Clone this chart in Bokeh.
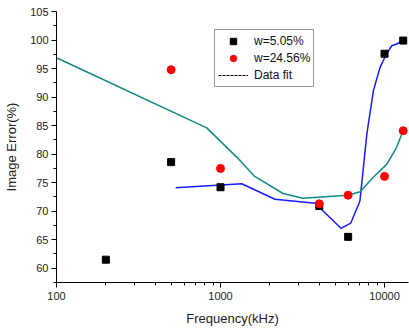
from bokeh.plotting import figure
from bokeh.models import FixedTicker, Legend, LegendItem, Range1d, BasicTickFormatter
from bokeh.embed import file_html
from bokeh.resources import INLINE

# Measured data
freq_a = [200, 500, 1000, 4000, 6000, 10000, 13000]
err_a = [61.5, 78.6, 74.2, 70.9, 65.5, 97.6, 99.9]

freq_b = [500, 1000, 4000, 6000, 10000, 13000]
err_b = [94.8, 77.5, 71.3, 72.8, 76.1, 84.1]

# Fit curves
fit_a_x = [533, 1346, 2148, 3770, 5430, 6220, 7080, 7800, 8550, 9390, 10300, 11070, 11860, 12970]
fit_a_y = [74.1, 74.8, 72.1, 71.4, 67.0, 67.9, 71.8, 83.5, 91.1, 95.2, 97.6, 99.0, 99.3, 99.9]

fit_b_x = [100, 824, 1315, 1600, 2404, 3184, 5990, 7100, 8510, 10300, 11860, 12970]
fit_b_y = [96.9, 84.6, 78.9, 76.2, 73.1, 72.25, 72.8, 73.4, 75.9, 78.2, 81.2, 84.1]

y_ticks = [60, 65, 70, 75, 80, 85, 90, 95, 100, 105]
y_minor = [57.5, 62.5, 67.5, 72.5, 77.5, 82.5, 87.5, 92.5, 97.5, 102.5]
x_ticks = [100, 1000, 10000]
x_minor = [200, 300, 400, 500, 600, 700, 800, 900,
           2000, 3000, 4000, 5000, 6000, 7000, 8000, 9000]

FONT = "Liberation Sans"

p = figure(width=409, height=328, x_axis_type="log",
           x_range=Range1d(100, 14000), y_range=Range1d(57.5, 105),
           output_backend="svg", toolbar_location=None,
           min_border_left=56, min_border_right=1, min_border_top=11, min_border_bottom=46)
p.outline_line_color = None
p.xgrid.visible = False
p.ygrid.visible = False
p.background_fill_color = "white"
p.border_fill_color = "white"

for ax in (p.xaxis[0], p.yaxis[0]):
    ax.axis_line_color = "black"
    ax.axis_line_width = 1
    ax.major_tick_in = 0
    ax.major_tick_out = 5
    ax.minor_tick_in = 0
    ax.minor_tick_out = 3
    ax.major_tick_line_color = "black"
    ax.minor_tick_line_color = "black"
    ax.major_label_text_font = FONT
    ax.major_label_text_font_size = "11px"
    ax.major_label_text_color = "#222222"
    ax.axis_label_text_font = FONT
    ax.axis_label_text_font_size = "13px"
    ax.axis_label_text_font_style = "normal"
    ax.axis_label_text_color = "#222222"

p.xaxis[0].ticker = FixedTicker(ticks=x_ticks, minor_ticks=x_minor)
p.xaxis[0].formatter = BasicTickFormatter()
p.xaxis[0].axis_label = "Frequency(kHz)"
p.xaxis[0].major_label_standoff = 4
p.xaxis[0].axis_label_standoff = 8
p.yaxis[0].ticker = FixedTicker(ticks=y_ticks, minor_ticks=y_minor)
p.yaxis[0].axis_label = "Image Error(%)"
p.yaxis[0].major_label_standoff = 3
p.yaxis[0].axis_label_standoff = 8

la = p.line(fit_a_x, fit_a_y, line_color="#1a1aff", line_width=1.5)
lb = p.line(fit_b_x, fit_b_y, line_color="#108a80", line_width=1.5)
sa = p.scatter(freq_a, err_a, marker="square", size=7, fill_color="black", line_color="black")
sb = p.scatter(freq_b, err_b, marker="circle", size=8, fill_color="#ff0000", line_color="#ff0000")
# legend-only renderer, placed outside the visible range
dummy = p.line([1, 2], [0, 0], line_color="black", line_width=1, line_dash="3 1")

legend = Legend(items=[LegendItem(label="w=5.05%", renderers=[sa]),
                       LegendItem(label="w=24.56%", renderers=[sb]),
                       LegendItem(label="Data fit", renderers=[dummy])],
                location=(158, 195))
legend.label_text_font = FONT
legend.label_text_font_size = "12px"
legend.label_text_color = "#111111"
legend.border_line_color = "#333333"
legend.border_line_width = 1
legend.background_fill_alpha = 1
legend.padding = 3
legend.spacing = 1
legend.margin = 0
legend.glyph_height = 16
legend.label_height = 16
legend.glyph_width = 30
legend.label_standoff = 6
p.add_layout(legend, "center")

open("out.html", "w").write(file_html(p, INLINE))
